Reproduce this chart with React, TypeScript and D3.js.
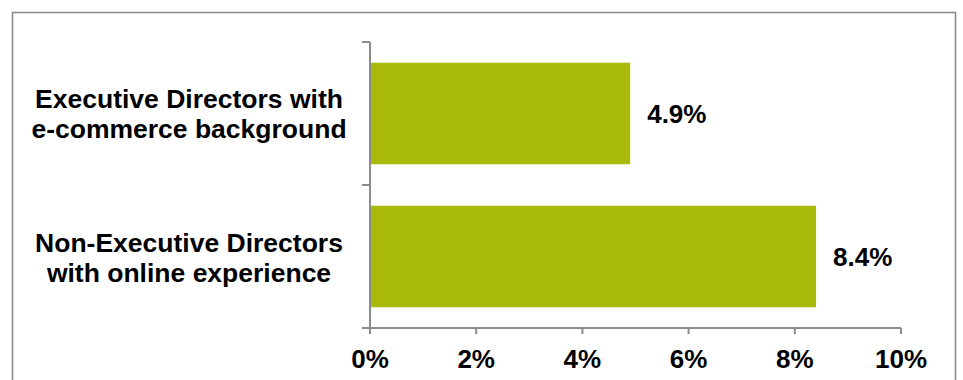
import React from "react";
import * as d3 from "d3";

const categories: string[][] = [
  ["Executive Directors with", "e-commerce background"],
  ["Non-Executive Directors", "with online experience"],
];
const values: number[] = [4.9, 8.4];
const valueLabels: string[] = ["4.9%", "8.4%"];
const xTicks: number[] = [0, 2, 4, 6, 8, 10];

const W = 963;
const H = 380;
const FONT = "'Liberation Sans', Arial, sans-serif";
const AXIS = "#8c8c8c";
const BAR = "#aaba0b";

export default function App() {
  const x = d3.scaleLinear().domain([0, 10]).range([370, 901]);
  const y = d3
    .scaleBand<number>()
    .domain(d3.range(categories.length))
    .range([42, 328])
    .paddingInner(0.29)
    .paddingOuter(0.145);
  const step = (328 - 42) / categories.length;
  const yTicks = d3.range(categories.length + 1).map((i) => 42 + i * step);

  return (
    <svg
      width={W}
      height={H}
      style={{ position: "absolute", left: 0, top: 0, background: "#fff" }}
      fontFamily={FONT}
    >
      <rect x={12.5} y={12.5} width={943} height={400} fill="#fff" stroke={AXIS} strokeWidth={1.6} />
      {values.map((v, i) => (
        <rect key={i} x={x(0)} y={y(i)!} width={x(v) - x(0)} height={y.bandwidth()} fill={BAR} />
      ))}
      {/* y axis */}
      <line x1={x(0)} x2={x(0)} y1={42} y2={328} stroke={AXIS} strokeWidth={2} />
      {yTicks.map((t, i) => (
        <line key={i} x1={x(0) - 8} x2={x(0)} y1={t} y2={t} stroke={AXIS} strokeWidth={2} />
      ))}
      {/* x axis */}
      <line x1={x(0)} x2={x(10)} y1={328} y2={328} stroke={AXIS} strokeWidth={2} />
      {xTicks.map((t) => (
        <g key={t}>
          <line x1={x(t)} x2={x(t)} y1={328} y2={334} stroke={AXIS} strokeWidth={2} />
          <text x={x(t)} y={368} textAnchor="middle" fontSize={26} fontWeight="bold" fill="#000">
            {t + "%"}
          </text>
        </g>
      ))}
      {/* category labels */}
      {categories.map((lines, i) => {
        const cy = y(i)! + y.bandwidth() / 2;
        return (
          <text key={i} x={189} textAnchor="middle" fontSize={26.5} fontWeight="bold" fill="#000">
            {lines.map((l, j) => (
              <tspan key={j} x={189} y={cy - 6 + i * 1.5 + j * 30}>
                {l}
              </tspan>
            ))}
          </text>
        );
      })}
      {/* value labels */}
      {values.map((v, i) => (
        <text
          key={i}
          x={x(v) + 17}
          y={y(i)! + y.bandwidth() / 2 + 9}
          fontSize={26}
          fontWeight="bold"
          fill="#000"
        >
          {valueLabels[i]}
        </text>
      ))}
    </svg>
  );
}
